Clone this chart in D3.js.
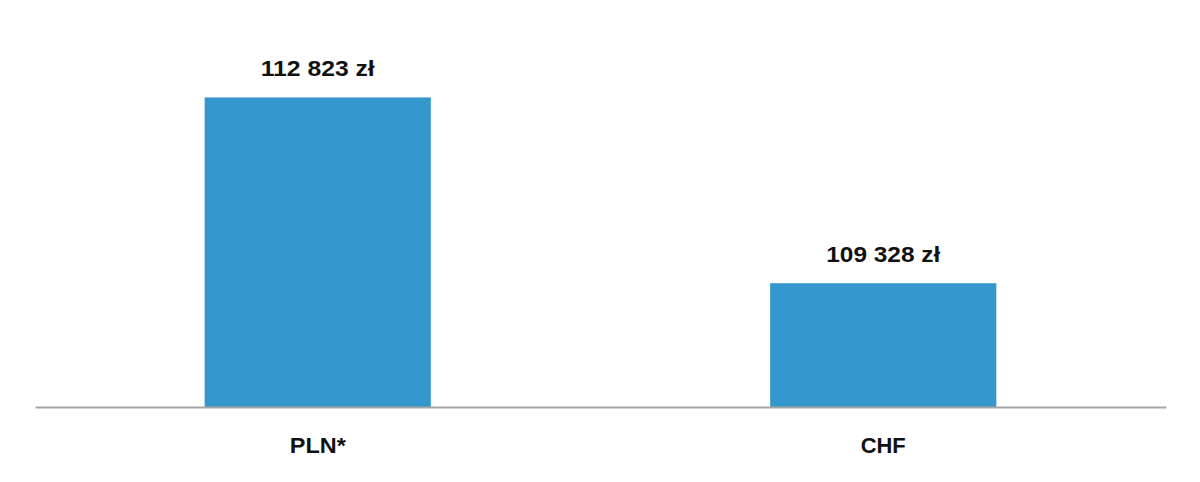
<!DOCTYPE html>
<html><head><meta charset="utf-8">
<script src="https://cdn.jsdelivr.net/npm/d3@7"></script>
<style>body{margin:0;background:#fff}svg{display:block}</style>
</head><body>
<script>
const categories = ["PLN*", "CHF"];
const values = [112823, 109328];
const valueLabels = ["112 823 zł", "109 328 zł"];
const yDomain = [107000, 113000];

const W = 1200, H = 482;
const svg = d3.select("body").append("svg").attr("width", W).attr("height", H);
const x = d3.scaleBand().domain(categories).range([35, 1166]).paddingInner(0.6).paddingOuter(0.3);
const y = d3.scaleLinear().domain(yDomain).range([407, 88]);

svg.selectAll("rect.bar").data(values).join("rect").attr("class","bar")
  .attr("x", (d,i) => x(categories[i]))
  .attr("width", x.bandwidth())
  .attr("y", d => y(d))
  .attr("height", d => y(yDomain[0]) - y(d))
  .attr("fill", "#3497cd");

const xAxis = svg.append("g").attr("transform", `translate(0,${y(yDomain[0])})`)
  .call(d3.axisBottom(x).tickSize(0).tickPadding(0));
xAxis.select(".domain").attr("stroke", "#a6a6a6").attr("stroke-width", 2);
xAxis.selectAll(".tick text").attr("dy", null).attr("y", 46)
  .attr("font-family", "'Liberation Sans', Arial, sans-serif")
  .attr("font-weight", "bold").attr("font-size", 22).attr("fill", "#111")
  .attr("textLength", d => d === "PLN*" ? 56 : 45).attr("lengthAdjust", "spacingAndGlyphs");

svg.selectAll("text.val").data(values).join("text").attr("class","val")
  .attr("x", (d,i) => x(categories[i]) + x.bandwidth()/2)
  .attr("y", d => y(d) - 21)
  .attr("text-anchor", "middle")
  .attr("font-family", "'Liberation Sans', Arial, sans-serif")
  .attr("font-weight", "bold").attr("font-size", 22).attr("fill", "#111")
  .attr("textLength", 114).attr("lengthAdjust", "spacingAndGlyphs")
  .text((d,i) => valueLabels[i]);
</script>
</body></html>
